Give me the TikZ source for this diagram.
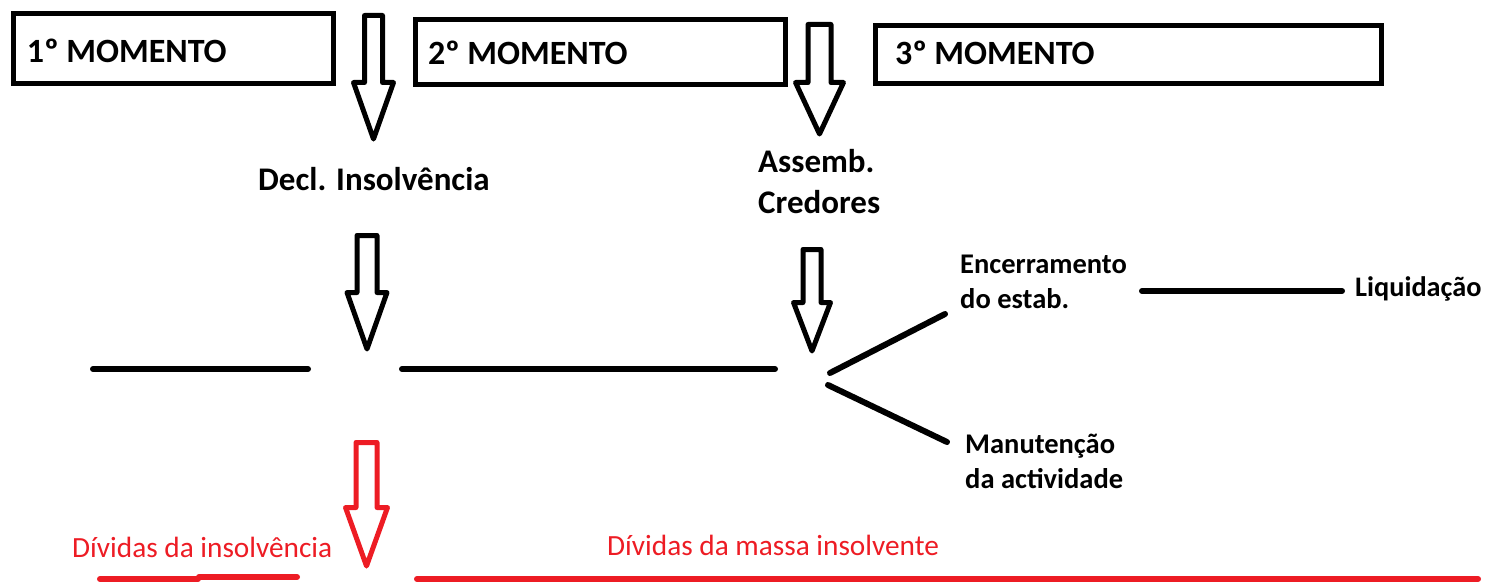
\documentclass[tikz,border=0pt]{standalone}
\usepackage{fontspec}
\setmainfont{Carlito}
\usepackage{xcolor}
\usetikzlibrary{positioning,calc}
\definecolor{paintred}{RGB}{237,28,36}
% hollow down arrow: options, x, top, head top, tip, half shaft, half head
\newcommand{\blockarrow}[7]{%
	\draw[#1] (#2-#6,#3) -- (#2+#6,#3) -- (#2+#6,#4) -- (#2+#7,#4) -- (#2,#5)
		-- (#2-#7,#4) -- (#2-#6,#4) -- cycle;}
\begin{document}
\begin{tikzpicture}[x=1pt,y=-1pt,
		momento/.style={draw, line width=5pt, align=left, inner ysep=0pt, text depth=0pt,
			font=\fontsize{34}{40}\selectfont\bfseries},
		txt/.style={inner sep=0pt, anchor=base west, align=left},
		timeline/.style={line width=6pt, line cap=round},
		redline/.style={paintred, line width=6pt, line cap=round},
		hollow/.style={line width=5pt, line join=round}]
		\useasboundingbox (0,0) rectangle (1485,583);
		% moments
		\node[momento, minimum width=320pt, minimum height=70pt, text width=293pt,
			inner xsep=13.5pt, text height=29pt] (mom1) at (173.5,48.5) {1º\kern-4pt\ MOMENTO};
		\node[momento, minimum width=370pt, minimum height=65pt, text width=345pt,
			inner xsep=12.5pt, text height=26pt] (mom2) at (600.5,52) {2º\kern-4pt\ MOMENTO};
		\node[momento, minimum width=506pt, minimum height=58pt, text width=467pt,
			inner xsep=19.5pt, text height=21pt] (mom3) at (1128.5,54.5) {3º\kern-4pt\ MOMENTO};
		\blockarrow{hollow}{373.5}{15.5}{82.5}{139}{9}{20}
		\blockarrow{hollow}{819.5}{24.5}{82.5}{134}{11.5}{24}
		\node[txt, font=\fontsize{33}{41}\selectfont\bfseries] (decl) at (258,190) {Decl. Insolvência};
		\node[txt, font=\fontsize{33}{41}\selectfont\bfseries] (assemb) at (758,213) {Assemb.\\Credores};
		\blockarrow{hollow}{367}{235.5}{292.5}{349}{10}{20}
		\blockarrow{hollow}{812}{249.5}{302.5}{351}{9}{18.5}
		% timeline
		\coordinate (t0) at (93,369);
		\coordinate (t1) at (308,369);
		\coordinate (t2) at (402,369);
		\coordinate (t3) at (775,369);
		\draw[timeline] (t0) -- (t1);
		\draw[timeline] (t2) -- (t3);
		\node[txt, font=\fontsize{28.5}{35}\selectfont\bfseries] (encerr) at (960,308) {Encerramento\\do estab.};
		\node[txt, font=\fontsize{28.5}{35}\selectfont\bfseries] (manut) at (965,488) {Manutenção\\da actividade};
		\node[txt, font=\fontsize{28.3}{35}\selectfont\bfseries] (liquid) at (1355,296) {Liquidação};
		\coordinate (hubA) at (830,373);
		\coordinate (hubB) at (828,385);
		\coordinate (encA) at (945,314);
		\coordinate (manA) at (947,442);
		\coordinate (liqA) at (1142,291);
		\coordinate (liqB) at (1342,291);
		\draw[timeline] (hubA) -- (encA);
		\draw[timeline] (hubB) -- (manA);
		\draw[timeline] (liqA) -- (liqB);
		% debts
		\blockarrow{hollow, paintred}{366.5}{442.5}{507.5}{566}{10.5}{21}
		\node[txt, paintred, font=\fontsize{29.3}{34}\selectfont] (divins) at (72,557) {Dívidas da insolvência};
		\node[txt, paintred, font=\fontsize{29.3}{34}\selectfont] (divmas) at (607,555) {Dívidas da massa insolvente};
		\coordinate (r0) at (100,579);
		\coordinate (r1) at (198,579);
		\coordinate (r2) at (199,577);
		\coordinate (r3) at (297,577);
		\coordinate (r4) at (417,579);
		\coordinate (r5) at (1478,579);
		\draw[redline] (r0) -- (r1);
		\draw[redline] (r2) -- (r3);
		\draw[redline] (r4) -- (r5);
	\end{tikzpicture}
\end{document}
